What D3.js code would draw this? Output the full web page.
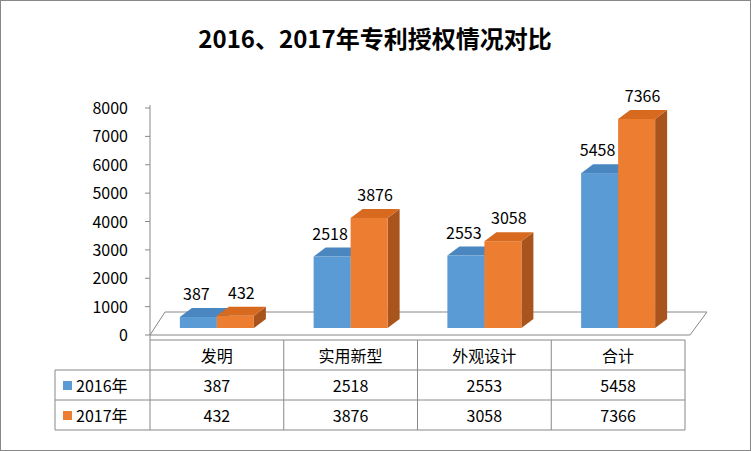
<!DOCTYPE html>
<html><head><meta charset="utf-8">
<script src="https://cdn.jsdelivr.net/npm/d3@7"></script>
<style>body{margin:0;background:#fff}text{font-family:"Noto Sans CJK SC","Liberation Sans",sans-serif}</style>
</head><body><svg id="c" width="751" height="451"></svg>
<script>
const categories=["发明","实用新型","外观设计","合计"];
const seriesNames=["2016年","2017年"];
const v2016=[387,2518,2553,5458];
const v2017=[432,3876,3058,7366];
const yTicks=[0,1000,2000,3000,4000,5000,6000,7000,8000];
const colors=["#5B9BD5","#ED7D31"], tops=["#4A86C0","#D86A20"], sides=["#3F6FA0","#A8541C"];
const svg=d3.select("#c");
svg.append("rect").attr("x",0.5).attr("y",0.5).attr("width",750).attr("height",450).attr("fill","#fff").attr("stroke","#888");
svg.append("text").attr("x",375).attr("y",48).attr("text-anchor","middle").attr("font-size",24).attr("font-weight","bold").text("2016、2017年专利授权情况对比");
const yAxisS=d3.scaleLinear().domain([0,8000]).range([335,108]);
const x=d3.scaleBand().domain(categories).range([150,685]);
const hS=d3.scaleLinear().domain([0,8000]).range([0,227]);
const dx=12,dy=-9,base=328;
// floor
svg.append("path").attr("d",`M150,335L690,335L707,312L165,312Z`).attr("fill","#fff").attr("stroke","#888");
svg.append("line").attr("x1",150).attr("x2",150).attr("y1",105).attr("y2",340).attr("stroke","#888");
yTicks.forEach(t=>{svg.append("text").attr("x",128).attr("y",yAxisS(t)+6).attr("text-anchor","end").attr("font-size",16).text(t);
 svg.append("line").attr("x1",145).attr("x2",150).attr("y1",yAxisS(t)).attr("y2",yAxisS(t)).attr("stroke","#888");});
const series=[v2016,v2017];
categories.forEach((c,i)=>{
 const cx=x(c)+x.bandwidth()/2, bw=37;
 series.forEach((s,k)=>{
  const x0=cx-bw+k*bw, h=hS(s[i]), yt=base-h;
  svg.append("path").attr("d",`M${x0+bw},${base}L${x0+bw+dx},${base+dy}L${x0+bw+dx},${yt+dy}L${x0+bw},${yt}Z`).attr("fill",sides[k]);
  svg.append("rect").attr("x",x0).attr("y",yt).attr("width",bw).attr("height",h).attr("fill",colors[k]);
  svg.append("path").attr("d",`M${x0},${yt}L${x0+dx},${yt+dy}L${x0+bw+dx},${yt+dy}L${x0+bw},${yt}Z`).attr("fill",tops[k]);
  svg.append("text").attr("x",x0+bw/2+(k?6:-2)).attr("y",yt+dy-8).attr("text-anchor","middle").attr("font-size",16).text(s[i]);
 });
});
// table
const rows=[340,370,400,430];
const g=svg.append("g").attr("stroke","#888");
rows.forEach((r,j)=>g.append("line").attr("x1",j?55:150).attr("x2",685).attr("y1",r).attr("y2",r));
g.append("line").attr("x1",55).attr("x2",55).attr("y1",370).attr("y2",430);
[150,...categories.map(c=>x(c)+x.bandwidth())].forEach(xx=>g.append("line").attr("x1",xx).attr("x2",xx).attr("y1",340).attr("y2",430));
categories.forEach(c=>svg.append("text").attr("x",x(c)+x.bandwidth()/2).attr("y",362).attr("text-anchor","middle").attr("font-size",16).text(c));
series.forEach((s,k)=>{const yy=rows[k+1]+22;
 svg.append("rect").attr("x",63).attr("y",yy-11).attr("width",9).attr("height",9).attr("fill",colors[k]);
 svg.append("text").attr("x",76).attr("y",yy).attr("font-size",16).text(seriesNames[k]);
 categories.forEach((c,i)=>svg.append("text").attr("x",x(c)+x.bandwidth()/2).attr("y",yy).attr("text-anchor","middle").attr("font-size",16).text(s[i]));});
</script></body></html>
